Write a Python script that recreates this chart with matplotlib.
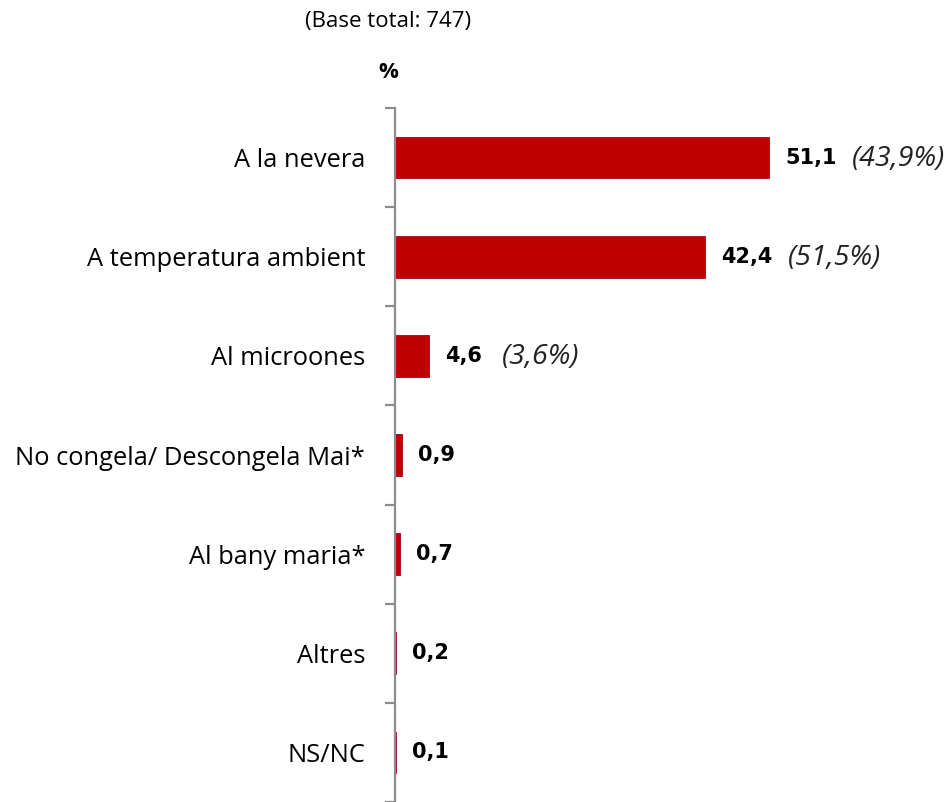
import matplotlib
matplotlib.use("Agg")
import matplotlib.pyplot as plt
import numpy as np

categories = ["A la nevera", "A temperatura ambient", "Al microones",
              "No congela/ Descongela Mai*", "Al bany maria*", "Altres", "NS/NC"]
values = [51.1, 42.4, 4.6, 0.9, 0.7, 0.2, 0.1]
value_labels = ["51,1", "42,4", "4,6", "0,9", "0,7", "0,2", "0,1"]
prev_labels = ["(43,9%)", "(51,5%)", "(3,6%)", "", "", "", ""]

# pixel offsets (from bar end) for the italic labels
prev_offsets = [83, 83, 73, 0, 0, 0, 0]

fig = plt.figure(figsize=(9.53, 8.02), dpi=100)
ax = fig.add_axes([395/953, 0.0, 558/953, 1 - 108/802])

n = len(categories)
y = np.arange(n)
ax.barh(y, values, height=0.42, color="#C00000", edgecolor="#A0002A", linewidth=0.6)
ax.set_ylim(n - 0.5, -0.5)
ax.set_xlim(0, 558 / 7.32)

for s in ["top", "right", "bottom"]:
    ax.spines[s].set_visible(False)
ax.spines["left"].set_color("#8C8C8C")
ax.spines["left"].set_linewidth(1.6)
ax.set_xticks([])
ax.set_yticks(y)
ax.set_yticklabels(categories, family="Open Sans", fontsize=18.4)
ax.tick_params(axis="y", which="major", length=0, pad=21.5)
ax.set_yticks(np.arange(-0.5, n, 1.0), minor=True)
ax.tick_params(axis="y", which="minor", length=7, width=1.6, color="#8C8C8C")

for yi, v, vl, pl, po in zip(y, values, value_labels, prev_labels, prev_offsets):
    ax.annotate(vl, (v, yi), xytext=(16, 0), textcoords="offset pixels",
                ha="left", va="center", fontsize=15, fontweight="bold",
                family="DejaVu Sans", color="black")
    if pl:
        ax.annotate(pl, (v, yi), xytext=(po, -1), textcoords="offset pixels",
                    ha="left", va="center", fontsize=20.5, style="italic",
                    family="Open Sans", color="#222222")

fig.text(388/953, 1 - 22/802, "(Base total: 747)", ha="center", va="center",
         family="Open Sans", fontsize=16)
fig.text(388/953, 1 - 72/802, "%", ha="center", va="center",
         family="Open Sans", fontsize=16, fontweight="bold")

fig.savefig("out.png", dpi=100)
